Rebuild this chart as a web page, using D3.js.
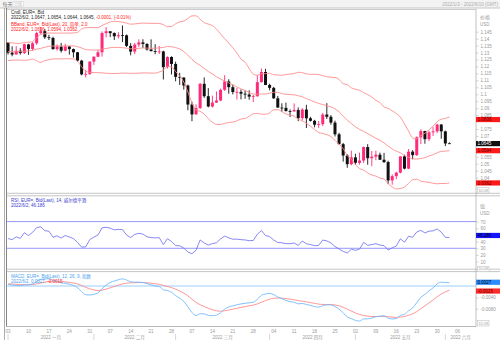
<!DOCTYPE html>
<html><head><meta charset="utf-8">
<script src="https://cdn.jsdelivr.net/npm/d3@7/dist/d3.min.js"></script>
<style>body{margin:0;background:#fff}svg{display:block}</style>
</head><body>
<script>
// ---------- data ----------
const slots = ["01-03","01-04","01-05","01-06","01-07","01-10","01-11","01-12","01-13","01-14","01-17","01-18","01-19","01-20","01-21","01-24","01-25","01-26","01-27","01-28","01-31",
"02-01","02-02","02-03","02-04","02-07","02-08","02-09","02-10","02-11","02-14","02-15","02-16","02-17","02-18","02-21","02-22","02-23","02-24","02-25","02-28",
"03-01","03-02","03-03","03-04","03-07","03-08","03-09","03-10","03-11","03-14","03-15","03-16","03-17","03-18","03-21","03-22","03-23","03-24","03-25","03-28","03-29","03-30","03-31",
"04-01","04-04","04-05","04-06","04-07","04-08","04-11","04-12","04-13","04-14","04-15","04-18","04-19","04-20","04-21","04-22","04-25","04-26","04-27","04-28","04-29",
"05-02","05-03","05-04","05-05","05-06","05-09","05-10","05-11","05-12","05-13","05-16","05-17","05-18","05-19","05-20","05-23","05-24","05-25","05-26","05-27","05-30","05-31",
"06-01","06-02","06-03","06-06","06-07","06-08","06-09","06-10"];
const barDates = slots.slice(0, 109);
const open = [1.1370,1.1299,1.1286,1.1313,1.1296,1.1358,1.1326,1.1367,1.1440,1.1454,1.1410,1.1405,1.1325,1.1343,1.1313,1.1344,1.1325,1.1302,1.1242,1.1143,
1.1146,1.1235,1.1270,1.1302,1.1440,1.1453,1.1440,1.1417,1.1425,1.1424,1.1348,1.1307,1.1357,1.1373,1.1362,1.1322,1.1310,1.1306,1.1308,1.1195,
1.1268,1.1218,1.1125,1.1120,1.1063,1.0926,1.0855,1.0901,1.1075,1.0986,1.0912,1.0940,1.0955,1.1032,1.1092,1.1051,1.1016,1.1017,1.1004,1.0998,
1.0983,1.0986,1.1087,1.1160,1.1067,1.1046,1.0971,1.0904,1.0902,1.0879,1.0877,1.0887,1.0828,1.0890,1.0827,1.0809,1.0781,1.0785,1.0854,1.0838,
1.0796,1.0712,1.0641,1.0559,1.0497,1.0546,1.0507,1.0523,1.0620,1.0540,1.0551,1.0565,1.0529,1.0512,1.0380,1.0411,1.0436,1.0553,1.0465,1.0587,
1.0562,1.0690,1.0735,1.0677,1.0726,1.0733,1.0782,1.0733,1.0647];
const high = [1.1376,1.1345,1.1346,1.1332,1.1364,1.1363,1.1375,1.1450,1.1482,1.1469,1.1428,1.1414,1.1358,1.1369,1.1363,1.1347,1.1329,1.1304,1.1248,1.1175,
1.1237,1.1273,1.1319,1.1452,1.1483,1.1454,1.1445,1.1446,1.1495,1.1430,1.1368,1.1369,1.1395,1.1396,1.1367,1.1395,1.1360,1.1347,1.1313,1.1273,
1.1273,1.1234,1.1154,1.1122,1.1069,1.0946,1.0928,1.1081,1.1121,1.1044,1.0990,1.1020,1.1040,1.1137,1.1108,1.1070,1.1046,1.1035,1.1028,1.1028,
1.0997,1.1137,1.1185,1.1183,1.1076,1.1053,1.0988,1.0935,1.0940,1.0891,1.0934,1.0905,1.0900,1.0924,1.0838,1.0816,1.0807,1.0866,1.0936,1.0850,
1.0810,1.0723,1.0650,1.0569,1.0594,1.0572,1.0580,1.0623,1.0641,1.0592,1.0594,1.0580,1.0578,1.0522,1.0424,1.0442,1.0553,1.0565,1.0606,1.0598,
1.0697,1.0749,1.0737,1.0737,1.0765,1.0787,1.0786,1.0738,1.0654];
const low = [1.1285,1.1273,1.1285,1.1285,1.1290,1.1284,1.1313,1.1355,1.1433,1.1398,1.1390,1.1320,1.1314,1.1300,1.1310,1.1285,1.1264,1.1235,1.1136,1.1121,
1.1139,1.1211,1.1267,1.1271,1.1410,1.1411,1.1390,1.1402,1.1375,1.1340,1.1280,1.1289,1.1340,1.1333,1.1314,1.1309,1.1288,1.1290,1.1106,1.1185,
1.1142,1.1093,1.1067,1.1033,1.0885,1.0806,1.0854,1.0893,1.0974,1.0906,1.0904,1.0937,1.0950,1.1023,1.1004,1.0999,1.0962,1.0963,1.0967,1.0961,
1.0944,1.0982,1.1085,1.1066,1.1028,1.0967,1.0904,1.0874,1.0876,1.0836,1.0873,1.0806,1.0812,1.0757,1.0804,1.0762,1.0758,1.0771,1.0822,1.0781,
1.0696,1.0639,1.0515,1.0471,1.0489,1.0492,1.0493,1.0505,1.0493,1.0483,1.0526,1.0528,1.0505,1.0354,1.0349,1.0389,1.0431,1.0460,1.0461,1.0532,
1.0556,1.0641,1.0644,1.0663,1.0700,1.0720,1.0680,1.0627,1.0644];
const close = [1.1299,1.1286,1.1313,1.1296,1.1360,1.1326,1.1367,1.1440,1.1454,1.1410,1.1405,1.1325,1.1343,1.1313,1.1344,1.1325,1.1302,1.1242,1.1143,1.1146,
1.1235,1.1270,1.1302,1.1440,1.1453,1.1440,1.1417,1.1425,1.1424,1.1348,1.1307,1.1357,1.1373,1.1362,1.1322,1.1310,1.1306,1.1308,1.1195,1.1268,
1.1218,1.1125,1.1120,1.1063,1.0926,1.0855,1.0901,1.1075,1.0986,1.0912,1.0940,1.0955,1.1032,1.1092,1.1051,1.1016,1.1017,1.1004,1.0998,1.0983,
1.0986,1.1087,1.1160,1.1067,1.1046,1.0971,1.0904,1.0902,1.0879,1.0877,1.0887,1.0828,1.0890,1.0827,1.0809,1.0781,1.0785,1.0854,1.0838,1.0796,
1.0712,1.0641,1.0559,1.0497,1.0546,1.0507,1.0523,1.0620,1.0540,1.0551,1.0565,1.0529,1.0512,1.0380,1.0411,1.0436,1.0553,1.0465,1.0587,1.0562,
1.0690,1.0735,1.0677,1.0726,1.0733,1.0782,1.0733,1.0646,1.0645];
const bbUpper = [1.1371,1.1370,1.1366,1.1366,1.1373,1.1374,1.1380,1.1406,1.1430,1.1435,1.1441,1.1440,1.1440,1.1440,1.1440,
1.1440,1.1441,1.1446,1.1469,1.1479,1.1480,1.1480,1.1479,1.1495,1.1508,1.1520,1.1525,1.1523,1.1518,1.1512,
1.1504,1.1506,1.1509,1.1512,1.1511,1.1510,1.1510,1.1509,1.1501,1.1486,1.1488,1.1507,1.1521,1.1526,1.1545,
1.1564,1.1564,1.1539,1.1515,1.1505,1.1494,1.1469,1.1434,1.1400,1.1368,1.1335,1.1297,1.1253,1.1231,1.1185,
1.1145,1.1137,1.1147,1.1148,1.1151,1.1140,1.1139,1.1136,1.1142,1.1145,1.1149,1.1158,1.1155,1.1147,1.1143,
1.1144,1.1142,1.1134,1.1127,1.1122,1.1121,1.1107,1.1076,1.1069,1.1046,1.1036,1.1029,1.1011,1.0997,1.0980,
1.0956,1.0940,1.0909,1.0899,1.0881,1.0861,1.0835,1.0786,1.0735,1.0685,1.0679,1.0702,1.0719,1.0745,1.0770,
1.0802,1.0821,1.0826,1.0836];
const bbMid = [1.1306,1.1307,1.1306,1.1306,1.1308,1.1311,1.1316,1.1324,1.1330,1.1338,1.1345,1.1347,1.1348,1.1347,1.1348,
1.1348,1.1348,1.1342,1.1333,1.1322,1.1319,1.1318,1.1317,1.1325,1.1329,1.1335,1.1337,1.1337,1.1335,1.1332,
1.1327,1.1329,1.1330,1.1333,1.1332,1.1331,1.1331,1.1334,1.1337,1.1343,1.1342,1.1335,1.1326,1.1307,1.1281,
1.1251,1.1226,1.1208,1.1186,1.1164,1.1146,1.1126,1.1109,1.1095,1.1082,1.1067,1.1053,1.1038,1.1028,1.1013,
1.1002,1.1000,1.1002,1.1002,1.1008,1.1014,1.1014,1.1005,1.1000,1.0998,1.0996,1.0989,1.0982,1.0969,1.0957,
1.0945,1.0934,1.0926,1.0918,1.0909,1.0895,1.0873,1.0843,1.0814,1.0789,1.0766,1.0747,1.0733,1.0716,1.0700,
1.0683,1.0669,1.0650,1.0627,1.0607,1.0590,1.0579,1.0559,1.0547,1.0535,1.0534,1.0538,1.0544,1.0556,1.0565,
1.0579,1.0589,1.0591,1.0594];
const bbLower = [1.1242,1.1245,1.1246,1.1246,1.1244,1.1247,1.1253,1.1241,1.1230,1.1242,1.1248,1.1254,1.1255,1.1254,1.1256,
1.1255,1.1254,1.1238,1.1198,1.1165,1.1158,1.1156,1.1155,1.1154,1.1151,1.1150,1.1149,1.1150,1.1152,1.1152,
1.1150,1.1151,1.1152,1.1154,1.1153,1.1152,1.1152,1.1160,1.1173,1.1200,1.1196,1.1163,1.1130,1.1088,1.1016,
1.0939,1.0888,1.0877,1.0857,1.0824,1.0799,1.0783,1.0783,1.0791,1.0796,1.0800,1.0808,1.0822,1.0825,1.0842,
1.0859,1.0862,1.0857,1.0856,1.0866,1.0888,1.0889,1.0875,1.0858,1.0851,1.0843,1.0821,1.0809,1.0791,1.0770,
1.0746,1.0725,1.0718,1.0709,1.0696,1.0669,1.0639,1.0610,1.0559,1.0532,1.0496,1.0465,1.0455,1.0434,1.0419,
1.0411,1.0397,1.0390,1.0356,1.0334,1.0319,1.0322,1.0332,1.0358,1.0385,1.0389,1.0375,1.0370,1.0366,1.0360,
1.0356,1.0358,1.0358,1.0362];
const rsi = [44.5,43.0,47.0,44.9,53.3,49.0,53.9,61.0,62.2,56.3,55.6,46.5,48.6,45.4,49.1,47.0,44.5,38.9,31.7,32.1,
43.0,46.7,49.8,60.6,61.5,60.1,57.6,58.3,58.1,49.8,46.0,50.9,52.4,51.3,47.2,46.0,45.6,45.9,35.5,44.3,
40.2,34.0,33.7,30.4,24.3,21.8,27.0,42.5,38.0,34.8,37.0,38.2,44.1,48.2,45.7,43.6,43.7,42.9,42.5,41.4,
41.7,51.1,56.6,49.1,47.5,42.4,38.5,38.3,37.0,36.8,38.0,34.1,40.9,36.7,35.6,33.9,34.4,42.3,41.1,38.0,
32.6,28.9,25.3,23.0,28.6,26.9,28.7,38.8,34.5,35.5,36.9,34.8,33.9,27.4,30.7,33.4,44.2,39.1,48.0,46.5,
54.4,56.9,53.0,55.7,56.1,58.9,54.2,46.4,46.2];
// MACD and signal, in units of 0.0001
const macd = [6.8,3.2,2.4,0.5,4.1,4.1,7.4,15.6,23.1,25.1,26.1,20.1,16.6,11.3,9.5,6.5,2.3,-5.8,-20.0,-30.7,
-31.6,-29.1,-24.4,-9.4,3.5,12.5,17.7,22.1,25.2,21.3,14.7,13.4,13.5,12.6,8.5,4.2,0.5,-2.2,-13.3,-16.0,
-22.0,-33.9,-43.1,-54.4,-73.6,-93.4,-104.2,-97.6,-98.5,-103.9,-104.8,-103.0,-94.3,-81.7,-74.2,-70.2,-66.2,-63.3,-60.9,-59.4,
-57.3,-47.0,-32.6,-28.3,-26.3,-30.4,-38.6,-44.7,-50.9,-55.3,-57.3,-63.0,-61.8,-65.2,-68.5,-72.6,-74.6,-69.8,-66.5,-66.6,
-72.5,-82.0,-95.0,-109.1,-115.0,-121.4,-123.7,-116.4,-115.8,-113.1,-108.5,-106.6,-105.2,-113.5,-116.3,-115.1,-103.5,-100.3,-86.9,-77.4,
-58.9,-40.1,-29.6,-17.1,-6.6,7.5,13.5,12.5,11.5];
const signal = [7.8,6.9,6.0,4.9,4.7,4.6,5.2,7.3,10.4,13.4,15.9,16.8,16.7,15.6,14.4,12.8,10.7,7.4,1.9,-4.6,
-10.0,-13.8,-15.9,-14.6,-11.0,-6.3,-1.5,3.2,7.6,10.3,11.2,11.6,12.0,12.1,11.4,10.0,8.1,6.0,2.1,-1.5,
-5.6,-11.3,-17.6,-25.0,-34.7,-46.4,-58.0,-65.9,-72.4,-78.7,-83.9,-87.7,-89.0,-87.6,-84.9,-82.0,-78.8,-75.7,-72.8,-70.1,
-67.5,-63.4,-57.3,-51.5,-46.5,-43.3,-42.4,-42.8,-44.4,-46.6,-48.7,-51.6,-53.6,-56.0,-58.5,-61.3,-64.0,-65.1,-65.4,-65.6,
-67.0,-70.0,-75.0,-81.8,-88.5,-95.1,-100.8,-103.9,-106.3,-107.7,-107.8,-107.6,-107.1,-108.4,-110.0,-111.0,-109.5,-107.7,-103.5,-98.3,
-90.4,-80.4,-70.2,-59.6,-49.0,-38.1,-28.2,-20.8,-15.0];
// visible axis labels (the others sit under the value tags in the reference)
const priceTicks = [1.04,1.045,1.05,1.055,1.07,1.075,1.085,1.09,1.095,1.1,1.105,1.11,1.115,1.12,1.125,1.13,1.135,1.14,1.145];
const rsiTicks = [10,20,30,40,60,70];
const macdTicks = [-40,-80];
const dayTickDates = ["01-03","01-10","01-17","01-24","01-31","02-07","02-14","02-21","02-28","03-07","03-14","03-21","03-28","04-04","04-11","04-18","04-25","05-02","05-09","05-16","05-23","05-30","06-06"];
const dayTickLabels = ["03","10","17","24","31","07","14","21","28","07","14","21","28","04","11","18","25","02","09","16","23","30","06"];
const monthStarts = ["01-03","02-01","03-01","04-01","05-02","06-01"];
const monthLabels = ["2022 一月","2022 二月","2022 三月","2022 四月","2022 五月","2022 六月"];

// ---------- drawing ----------
const W = 500, H = 340;
const FONT = "'Liberation Sans', Arial, 'Noto Sans CJK SC', sans-serif";
const svg = d3.select("body").append("svg").attr("width", W).attr("height", H)
  .style("font-family", FONT);
const pL = 6.5, pR = 476;
const x = d3.scaleBand().domain(slots).range([6, 476]).padding(0);
const cx = d => x(d) + x.bandwidth() / 2;
const yP = d3.scaleLinear().domain([1.02932, 1.16097]).range([192.5, 9.5]);
const yR = d3.scaleLinear().domain([-0.3, 107.6]).range([268.5, 196.5]);
const yM = d3.scaleLinear().domain([-143, 51.2]).range([326.5, 271.5]);

// header strip
svg.append("rect").attr("x", 0).attr("y", 0).attr("width", W).attr("height", 8).attr("fill", "#f3f3f3");
svg.append("line").attr("x1", 0).attr("x2", W).attr("y1", 8).attr("y2", 8).attr("stroke", "#b8b8b8").attr("stroke-width", 0.8);
svg.append("text").attr("x", 2.5).attr("y", 6).attr("font-size", 5).attr("fill", "#777").text("每天");
svg.append("rect").attr("x", 13).attr("y", 1.5).attr("width", 10.5).attr("height", 5).attr("fill", "#fff").attr("stroke", "#ccc").attr("stroke-width", 0.5);
svg.append("text").attr("x", 14).attr("y", 5.6).attr("font-size", 4).attr("fill", "#bbb").text("日线");
svg.append("text").attr("x", 498).attr("y", 5.8).attr("text-anchor", "end").attr("font-size", 4.5).attr("fill", "#aaa").text("2022/1/3 - 2022/6/10 (GMT)");

// frame
svg.append("line").attr("x1", 4.5).attr("x2", 4.5).attr("y1", 8).attr("y2", H).attr("stroke", "#999").attr("stroke-width", 0.8);
svg.append("line").attr("x1", pL).attr("x2", pL).attr("y1", 8).attr("y2", 326.5).attr("stroke", "#666").attr("stroke-width", 0.8);
svg.append("line").attr("x1", pR).attr("x2", pR).attr("y1", 9).attr("y2", 326.5).attr("stroke", "#999").attr("stroke-width", 0.6);
svg.append("line").attr("x1", pL).attr("x2", pR).attr("y1", 9.5).attr("y2", 9.5).attr("stroke", "#aaa").attr("stroke-width", 0.6);
[193.3, 195.8, 269.2, 271.6].forEach(yy =>
  svg.append("line").attr("x1", pL).attr("x2", W).attr("y1", yy).attr("y2", yy).attr("stroke", "#aaa").attr("stroke-width", 0.7));
svg.append("line").attr("x1", pL).attr("x2", pR).attr("y1", 326.5).attr("y2", 326.5).attr("stroke", "#999").attr("stroke-width", 0.7);

// ---- price panel ----
const bbColor = "#ff8c8c";
const bars = barDates.map((d, i) => ({ d, o: open[i], h: high[i], l: low[i], c: close[i] }));
const upC = "#ff2a7a", dnC = "#111";
const gP = svg.append("g");
gP.selectAll("line.w").data(bars).join("line")
  .attr("x1", b => cx(b.d)).attr("x2", b => cx(b.d))
  .attr("y1", b => yP(b.h)).attr("y2", b => yP(b.l))
  .attr("stroke", b => b.c >= b.o ? upC : dnC).attr("stroke-width", 0.9);
gP.selectAll("rect.b").data(bars).join("rect")
  .attr("x", b => cx(b.d) - 1.5).attr("width", 3)
  .attr("y", b => yP(Math.max(b.o, b.c)))
  .attr("height", b => Math.max(0.8, Math.abs(yP(b.o) - yP(b.c))))
  .attr("fill", b => b.c >= b.o ? upC : dnC);
const lineP = arr => d3.line().x((v, i) => cx(barDates[i])).y(v => yP(v)).curve(d3.curveMonotoneX)(arr);
[bbUpper, bbMid, bbLower].forEach(a =>
  svg.append("path").attr("d", lineP(a)).attr("fill", "none").attr("stroke", bbColor).attr("stroke-width", 0.9));

// price axis
const styleAxis = g => {
  g.select(".domain").remove();
  g.selectAll("line").attr("stroke", "#aaa").attr("stroke-width", 0.5);
  g.selectAll("text").attr("font-size", 4.5).attr("fill", "#999").attr("font-family", FONT);
};
svg.append("g").attr("transform", `translate(${pR},0)`)
  .call(d3.axisRight(yP).tickValues(priceTicks).tickSize(2.5).tickPadding(2).tickFormat(d => String(+d.toFixed(3))))
  .call(styleAxis);
svg.append("text").attr("x", 480).attr("y", 18.5).attr("font-size", 5).attr("fill", "#999").text("价格");
svg.append("text").attr("x", 480).attr("y", 25.5).attr("font-size", 4.5).attr("fill", "#999").text("USD");

function tag(yv, txt, bg, fg) {
  svg.append("rect").attr("x", pR).attr("y", yv - 2.6).attr("width", W - pR).attr("height", 5.2).attr("fill", bg);
  svg.append("text").attr("x", pR + 1.5).attr("y", yv + 1.6).attr("font-size", 4.5).attr("fill", fg).text(txt);
}
function greyBox(yv, txt) {
  svg.append("rect").attr("x", 477.5).attr("y", yv).attr("width", 11.5).attr("height", 5.5).attr("fill", "#fafafa").attr("stroke", "#bbb").attr("stroke-width", 0.5);
  svg.append("text").attr("x", 478.5).attr("y", yv + 4.2).attr("font-size", 3.8).attr("fill", "#aaa").text(txt);
}
tag(yP(bbUpper[108]) + 2.5, "1.0836", "#ff1a1a", "#600");
tag(yP(close[108]), "1.0645", "#111", "#fff");
tag(yP(bbMid[108]), "1.0594", "#ff1a1a", "#600");
tag(yP(bbLower[108]), "1.0362", "#ff1a1a", "#600");
greyBox(187.5, "10.08");

// price legend
const leg = (yy, parts) => {
  const t = svg.append("text").attr("x", 11).attr("y", yy).attr("font-size", 4.5);
  parts.forEach(p => t.append("tspan").attr("fill", p[1]).text(p[0]));
};
leg(14.2, [["Cndl, EUR=, Bid", "#222"]]);
leg(19.2, [["2022/6/2, 1.0647, 1.0654, 1.0644, 1.0645, ", "#222"], ["-0.0001, (-0.01%)", "#ff2020"]]);
leg(25.8, [["BBand, EUR=, Bid(Last), 20, 简单, 2.0", "#ff2020"]]);
leg(30.8, [["2022/6/2, 1.0836, 1.0594, 1.0362", "#ff2020"]]);

// ---- RSI panel ----
const rsiColor = "#6a6af2";
[70, 30].forEach(v => svg.append("line").attr("x1", pL).attr("x2", pR).attr("y1", yR(v)).attr("y2", yR(v)).attr("stroke", "#8c8cff").attr("stroke-width", 0.9));
svg.append("path").attr("d", d3.line().x((v, i) => cx(barDates[i])).y(v => yR(v))(rsi))
  .attr("fill", "none").attr("stroke", rsiColor).attr("stroke-width", 0.8);
svg.append("g").attr("transform", `translate(${pR},0)`)
  .call(d3.axisRight(yR).tickValues(rsiTicks).tickSize(2.5).tickPadding(2))
  .call(styleAxis);
svg.append("text").attr("x", 480).attr("y", 207.5).attr("font-size", 5).attr("fill", "#999").text("值");
svg.append("text").attr("x", 480).attr("y", 214.5).attr("font-size", 4.5).attr("fill", "#999").text("USD");
tag(yR(rsi[108]) - 2, "46.186", "#1414ff", "#000");
leg(201.8, [["RSI, EUR=, Bid(Last), 14, 威尔德平滑", "#3a3ad0"]]);
leg(206.8, [["2022/6/2, 46.186", "#3a3ad0"]]);

// ---- MACD panel ----
svg.append("line").attr("x1", pL).attr("x2", pR).attr("y1", yM(0)).attr("y2", yM(0)).attr("stroke", "#8fc8ff").attr("stroke-width", 0.9);
svg.append("path").attr("d", d3.line().x((v, i) => cx(barDates[i])).y(v => yM(v)).curve(d3.curveMonotoneX)(signal))
  .attr("fill", "none").attr("stroke", "#ff8a8a").attr("stroke-width", 0.9);
svg.append("path").attr("d", d3.line().x((v, i) => cx(barDates[i])).y(v => yM(v)).curve(d3.curveMonotoneX)(macd))
  .attr("fill", "none").attr("stroke", "#6fbaff").attr("stroke-width", 0.9);
svg.append("g").attr("transform", `translate(${pR},0)`)
  .call(d3.axisRight(yM).tickValues(macdTicks).tickSize(2.5).tickPadding(2).tickFormat(d => (d / 10000).toFixed(4)))
  .call(styleAxis);
tag(yM(macd[108]) - 0.5, "0.0027", "#2a8cff", "#000");
tag(yM(signal[108]) + 0.8, "-0.0015", "#ff2a2a", "#600");
greyBox(266.2, "10.08");
greyBox(320.5, "12:28");
leg(277.7, [["MACD, EUR=, Bid(Last), 12, 26, 9, 指数", "#4aa0f0"]]);
leg(282.7, [["2022/6/2, 0.0027, ", "#4aa0f0"], ["-0.0015", "#ff2a2a"]]);

// ---- time axis ----
svg.selectAll("text.day").data(dayTickDates).join("text")
  .attr("x", d => cx(d)).attr("y", 332.8).attr("text-anchor", "middle")
  .attr("font-size", 4.5).attr("fill", "#999").text((d, i) => dayTickLabels[i]);
svg.selectAll("line.ms").data(monthStarts).join("line")
  .attr("x1", d => cx(d)).attr("x2", d => cx(d)).attr("y1", 334).attr("y2", 340)
  .attr("stroke", "#bbb").attr("stroke-width", 0.6);
const mEnds = monthStarts.slice(1).map(d => cx(d)).concat([pR]);
svg.selectAll("text.mon").data(monthStarts).join("text")
  .attr("x", (d, i) => (cx(d) + mEnds[i]) / 2).attr("y", 338.6).attr("text-anchor", "middle")
  .attr("font-size", 4.5).attr("fill", "#999").text((d, i) => monthLabels[i]);
</script>
</body></html>
